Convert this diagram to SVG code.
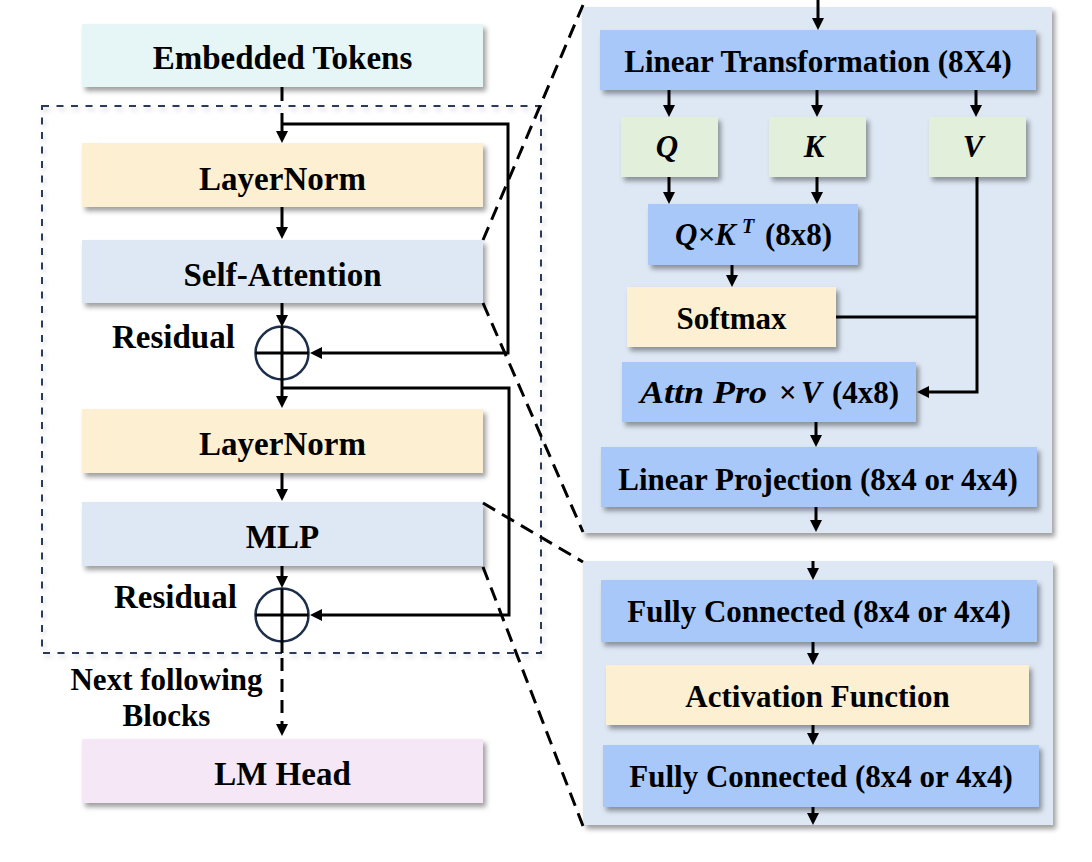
<svg xmlns="http://www.w3.org/2000/svg" width="1092" height="862" viewBox="0 0 1092 862">
<defs>
  <filter id="sh" x="-10%" y="-20%" width="130%" height="150%">
    <feDropShadow dx="3" dy="4" stdDeviation="2.5" flood-color="#000" flood-opacity="0.38"/>
  </filter>
  <filter id="shl" x="-5%" y="-5%" width="110%" height="110%">
    <feDropShadow dx="2" dy="3" stdDeviation="2.5" flood-color="#000" flood-opacity="0.2"/>
  </filter>
  <marker id="ah" viewBox="0 0 12 12" markerWidth="12" markerHeight="12" refX="8" refY="6" orient="auto" markerUnits="userSpaceOnUse">
    <path d="M0,0 L12,6 L0,12 z" fill="#000"/>
  </marker>
</defs>
<style>
  .t { font-family: "Liberation Serif", "Times New Roman", serif; font-weight: bold; fill: #000; }
  .l { font-size: 33px; text-anchor: middle; }
  .r { font-size: 31px; text-anchor: middle; }
  .i { font-style: italic; }
  .ln { stroke: #000; stroke-width: 3; fill: none; }
  .ar { stroke: #000; stroke-width: 3; fill: none; marker-end: url(#ah); }
  .dz { stroke: #000; stroke-width: 3; fill: none; stroke-dasharray: 14 8; }
  .box { filter: url(#sh); }
  .cyan { fill: #e6f5f5; }
  .peach { fill: #fdefd1; }
  .lblue { fill: #dde8f4; }
  .pink { fill: #f5e7f6; }
  .panel { fill: #dee8f4; filter: url(#sh); }
  .blue { fill: #a8c8fa; }
  .green { fill: #e2efda; }
</style>

<!-- block outline -->
<rect id="block" x="42" y="106" width="499" height="547" fill="none" stroke="#2a3a5a" stroke-width="2" stroke-dasharray="7 7.5" filter="url(#shl)"/>

<!-- left nodes -->
<g id="embedded-tokens">
  <rect class="box cyan" x="82" y="24" width="401" height="63"/>
  <text class="t l" x="282.5" y="69">Embedded Tokens</text>
</g>
<g id="layernorm-1">
  <rect class="box peach" x="82" y="143" width="401" height="64"/>
  <text class="t l" x="282.5" y="190">LayerNorm</text>
</g>
<g id="self-attention">
  <rect class="box lblue" x="82" y="240" width="401" height="63"/>
  <text class="t l" x="282.5" y="286">Self-Attention</text>
</g>
<g id="residual-1">
  <circle cx="282" cy="353" r="26.5" fill="none" stroke="#1c2e4a" stroke-width="2.5"/>
  <line class="ln" x1="255.5" y1="353" x2="308.5" y2="353"/>
  <line class="ln" x1="282" y1="326.5" x2="282" y2="379.5"/>
  <text class="t" x="112" y="348" font-size="33">Residual</text>
</g>
<g id="layernorm-2">
  <rect class="box peach" x="82" y="409" width="401" height="64"/>
  <text class="t l" x="282.5" y="455">LayerNorm</text>
</g>
<g id="mlp">
  <rect class="box lblue" x="82" y="502" width="401" height="64"/>
  <text class="t l" x="282.5" y="548">MLP</text>
</g>
<g id="residual-2">
  <circle cx="282" cy="615" r="26.5" fill="none" stroke="#1c2e4a" stroke-width="2.5"/>
  <line class="ln" x1="255.5" y1="615" x2="308.5" y2="615"/>
  <line class="ln" x1="282" y1="588.5" x2="282" y2="641.5"/>
  <text class="t" x="114" y="608" font-size="33">Residual</text>
</g>
<g id="next-blocks-label">
  <text class="t" x="166.5" y="690" font-size="31" text-anchor="middle">Next following</text>
  <text class="t" x="166.5" y="726" font-size="31" text-anchor="middle">Blocks</text>
</g>
<g id="lm-head">
  <rect class="box pink" x="82" y="739" width="401" height="64"/>
  <text class="t l" x="282.5" y="785">LM Head</text>
</g>

<!-- attention panel -->
<g id="attention-panel">
  <rect class="panel" x="582" y="7" width="470" height="526"/>
</g>
<g id="linear-transformation">
  <rect class="box blue" x="600" y="30" width="436" height="60"/>
  <text class="t r" x="818" y="72">Linear Transformation (8X4)</text>
</g>
<g id="q">
  <rect class="box green" x="621" y="117" width="97" height="60"/>
  <text class="t r i" x="667" y="157">Q</text>
</g>
<g id="k">
  <rect class="box green" x="769" y="117" width="97" height="60"/>
  <text class="t r i" x="814" y="157">K</text>
</g>
<g id="v">
  <rect class="box green" x="929" y="117" width="97" height="60"/>
  <text class="t r i" x="973" y="157">V</text>
</g>
<g id="qkt">
  <rect class="box blue" x="648" y="204" width="210" height="61"/>
  <text class="t i" x="675" y="245" font-size="31">Q×K</text>
  <text class="t i" x="742" y="233" font-size="20">T</text>
  <text class="t" x="765" y="245" font-size="31">(8x8)</text>
</g>
<g id="softmax">
  <rect class="box peach" x="627" y="287" width="209" height="60"/>
  <text class="t r" x="731.5" y="329">Softmax</text>
</g>
<g id="attn-pro-v">
  <rect class="box blue" x="622" y="362" width="294" height="60"/>
  <text class="t i" x="640" y="403" font-size="31" textLength="127" lengthAdjust="spacingAndGlyphs">Attn Pro</text>
  <text class="t" x="779" y="403" font-size="31">×</text>
  <text class="t i" x="801" y="403" font-size="31">V</text>
  <text class="t" x="832" y="403" font-size="31">(4x8)</text>
</g>
<g id="linear-projection">
  <rect class="box blue" x="601" y="447" width="436" height="60"/>
  <text class="t r" x="818" y="490">Linear Projection (8x4 or 4x4)</text>
</g>

<!-- mlp panel -->
<g id="mlp-panel">
  <rect class="panel" x="583" y="561" width="470" height="264"/>
</g>
<g id="fully-connected-1">
  <rect class="box blue" x="601" y="580" width="436" height="62"/>
  <text class="t r" x="819" y="622">Fully Connected (8x4 or 4x4)</text>
</g>
<g id="activation-function">
  <rect class="box peach" x="606" y="665" width="423" height="60"/>
  <text class="t r" x="817.5" y="707">Activation Function</text>
</g>
<g id="fully-connected-2">
  <rect class="box blue" x="603" y="745" width="436" height="62"/>
  <text class="t r" x="821" y="787">Fully Connected (8x4 or 4x4)</text>
</g>

<!-- connectors -->
<g id="connectors">
  <!-- left column -->
  <line class="ln" x1="282" y1="87" x2="282" y2="101"/>
  <line class="ar" x1="282" y1="113" x2="282" y2="139"/>
  <line class="ar" x1="282" y1="207" x2="282" y2="235"/>
  <line class="ar" x1="282" y1="303" x2="282" y2="323"/>
  <path class="ar" d="M282,124 H508 V353 H314"/>
  <line class="ar" x1="282" y1="379" x2="282" y2="404"/>
  <path class="ar" d="M282,388 H509 V615 H314"/>
  <line class="ar" x1="282" y1="473" x2="282" y2="497"/>
  <line class="ar" x1="282" y1="566" x2="282" y2="584"/>
  <line class="ln" x1="282" y1="641" x2="282" y2="653"/>
  <line class="ar" x1="282" y1="658" x2="282" y2="732" stroke-dasharray="13 8"/>

  <!-- zoom lines -->
  <line class="dz" x1="483" y1="240" x2="583" y2="5"/>
  <line class="dz" x1="483" y1="303" x2="583" y2="532"/>
  <line class="dz" x1="483" y1="503" x2="583" y2="562"/>
  <line class="dz" x1="483" y1="567" x2="583" y2="826"/>

  <!-- attention panel -->
  <line class="ar" x1="818" y1="0" x2="818" y2="26"/>
  <line class="ar" x1="669" y1="90" x2="669" y2="113"/>
  <line class="ar" x1="817" y1="90" x2="817" y2="113"/>
  <line class="ar" x1="976" y1="90" x2="976" y2="113"/>
  <line class="ar" x1="669" y1="177" x2="669" y2="200"/>
  <line class="ar" x1="817" y1="177" x2="817" y2="200"/>
  <line class="ar" x1="732" y1="265" x2="732" y2="283"/>
  <path class="ar" d="M977,177 V392 H921"/>
  <line class="ln" x1="836" y1="317" x2="977" y2="317"/>
  <line class="ar" x1="816" y1="422" x2="816" y2="443"/>
  <line class="ar" x1="816" y1="507" x2="816" y2="528"/>

  <!-- mlp panel -->
  <line class="ar" x1="813" y1="561" x2="813" y2="576"/>
  <line class="ar" x1="813" y1="642" x2="813" y2="661"/>
  <line class="ar" x1="813" y1="725" x2="813" y2="741"/>
  <line class="ar" x1="813" y1="807" x2="813" y2="821"/>
</g>
</svg>
